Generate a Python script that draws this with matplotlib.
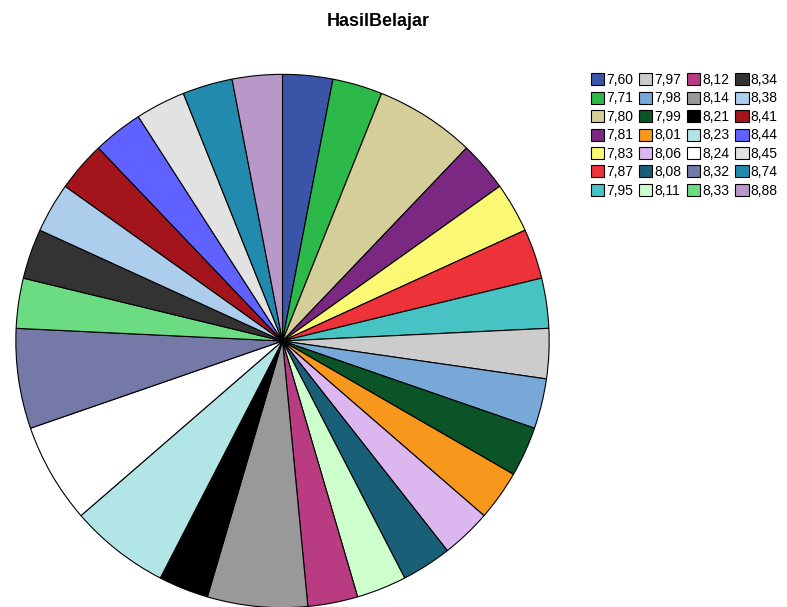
import matplotlib
matplotlib.use("Agg")
import matplotlib.pyplot as plt
from matplotlib.patches import Patch

plt.rcParams["font.family"] = ["Liberation Sans", "DejaVu Sans"]

labels = ["7,60", "7,71", "7,80", "7,81", "7,83", "7,87", "7,95",
          "7,97", "7,98", "7,99", "8,01", "8,06", "8,08", "8,11",
          "8,12", "8,14", "8,21", "8,23", "8,24", "8,32", "8,33",
          "8,34", "8,38", "8,41", "8,44", "8,45", "8,74", "8,88"]
counts = [1, 1, 2, 1, 1, 1, 1,
          1, 1, 1, 1, 1, 1, 1,
          1, 2, 1, 2, 2, 2, 1,
          1, 1, 1, 1, 1, 1, 1]
colors = ["#3A54A8", "#2DB84A", "#D4CF98", "#7A2882", "#FBF873", "#EE323A", "#48C3C4",
          "#CCCCCC", "#78A8D8", "#0A5428", "#F7981D", "#DCB6EE", "#1A5F78", "#CCFFCC",
          "#B93C82", "#999999", "#000000", "#B2E6E6", "#FFFFFF", "#7579A8", "#6BDC82",
          "#333333", "#ADCDEC", "#A3141C", "#5F62FF", "#E2E2E2", "#228AAC", "#B798C8"]

fig = plt.figure(figsize=(7.87, 6.07), dpi=100)
ax = fig.add_axes([14 / 787, -2 / 607, 537 / 787, 536 / 607])
ax.pie(counts, colors=colors, startangle=90, counterclock=False,
       wedgeprops={"edgecolor": "black", "linewidth": 0.8})
ax.set_xlim(-1.005, 1.005)
ax.set_ylim(-1.005, 1.005)
ax.set_aspect("equal")
ax.axis("off")

fig.text(378 / 787, 1 - 21 / 607, "HasilBelajar", ha="center", va="center",
         fontsize=13, fontweight="bold")

handles = [Patch(facecolor=c, edgecolor="black", linewidth=0.8, label=l)
           for c, l in zip(colors, labels)]
fig.legend(handles=handles, ncol=4, loc="upper left",
           bbox_to_anchor=(591 / 787, 1 - 73 / 607), frameon=False,
           fontsize=10, handlelength=0.95, handleheight=0.95, handletextpad=0.12,
           columnspacing=0.45, labelspacing=0.32, borderpad=0, borderaxespad=0)

fig.savefig("out.png", dpi=100)
